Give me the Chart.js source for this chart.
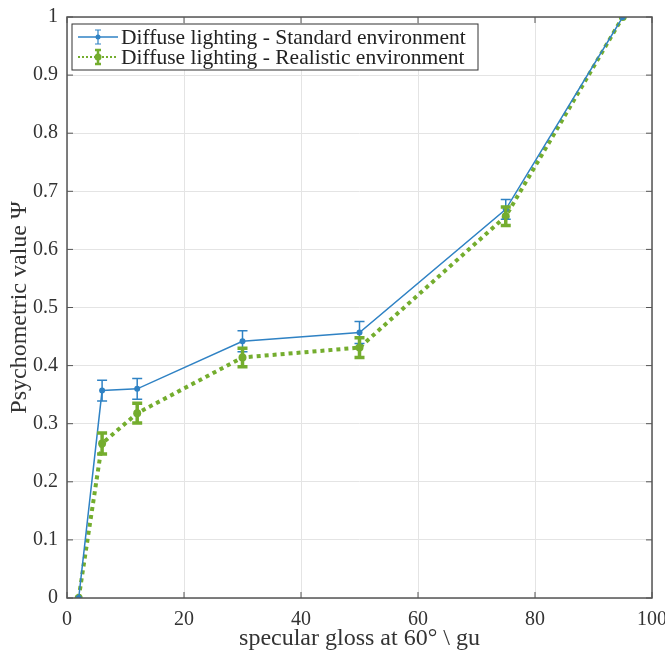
<!DOCTYPE html>
<html>
<head>
<meta charset="utf-8">
<script src="https://cdn.jsdelivr.net/npm/chart.js@4/dist/chart.umd.min.js"></script>
<style>
  html, body { margin: 0; padding: 0; background: #fff; }
  #wrap { width: 665px; height: 650px; }
</style>
</head>
<body>
<div id="wrap"><canvas id="ctx"></canvas></div>
<script>
// specular gloss (gu)
const gloss = [2, 6, 12, 30, 50, 75, 95];

const standardLabel = 'Diffuse lighting - Standard environment';
const standardValues = [0, 0.357, 0.360, 0.442, 0.457, 0.669, 1];
const standardErr = [0, 0.018, 0.018, 0.018, 0.019, 0.017, 0];

const realisticLabel = 'Diffuse lighting - Realistic environment';
const realisticValues = [0, 0.266, 0.318, 0.414, 0.431, 0.657, 1];
const realisticErr = [0, 0.018, 0.017, 0.016, 0.017, 0.016, 0];

const yTicks = [0, 0.1, 0.2, 0.3, 0.4, 0.5, 0.6, 0.7, 0.8, 0.9, 1];
const xTicks = [0, 20, 40, 60, 80, 100];

const BLUE = '#2f82c4';
const GREEN = '#74ad2e';
const FONT = '"Liberation Serif", "DejaVu Serif", serif';

const toPoints = (xs, ys) => xs.map((x, i) => ({ x: x, y: ys[i] }));

// error bars, axis frame with inward ticks, legend box
const matlabPlugin = {
  id: 'matlab',
  afterDatasetsDraw(chart) {
    const { ctx, scales } = chart;
    const xs = scales.x, ys = scales.y;
    const bars = [
      { err: standardErr, vals: standardValues, color: BLUE, width: 1.5, cap: 5 },
      { err: realisticErr, vals: realisticValues, color: GREEN, width: 3.5, cap: 5 },
    ];
    ctx.save();
    bars.forEach(b => {
      ctx.strokeStyle = b.color;
      ctx.lineWidth = b.width;
      gloss.forEach((g, i) => {
        if (!b.err[i]) return;
        const px = xs.getPixelForValue(g);
        const top = ys.getPixelForValue(b.vals[i] + b.err[i]);
        const bot = ys.getPixelForValue(b.vals[i] - b.err[i]);
        ctx.beginPath();
        ctx.moveTo(px, top); ctx.lineTo(px, bot);
        ctx.moveTo(px - b.cap, top); ctx.lineTo(px + b.cap, top);
        ctx.moveTo(px - b.cap, bot); ctx.lineTo(px + b.cap, bot);
        ctx.stroke();
      });
    });
    ctx.restore();
  },
  afterDraw(chart) {
    const { ctx, chartArea: a, scales } = chart;
    ctx.save();
    // frame
    ctx.strokeStyle = '#555';
    ctx.lineWidth = 1.5;
    ctx.strokeRect(a.left, a.top, a.right - a.left, a.bottom - a.top);
    // inward ticks
    ctx.lineWidth = 1;
    const t = 6;
    xTicks.forEach(v => {
      const px = scales.x.getPixelForValue(v);
      ctx.beginPath();
      ctx.moveTo(px, a.bottom); ctx.lineTo(px, a.bottom - t);
      ctx.moveTo(px, a.top); ctx.lineTo(px, a.top + t);
      ctx.stroke();
    });
    yTicks.forEach(v => {
      const py = scales.y.getPixelForValue(v);
      ctx.beginPath();
      ctx.moveTo(a.left, py); ctx.lineTo(a.left + t, py);
      ctx.moveTo(a.right, py); ctx.lineTo(a.right - t, py);
      ctx.stroke();
    });

    // legend
    const lx = a.left + 5, ly = a.top + 7, lw = 406, lh = 46;
    ctx.fillStyle = '#fff';
    ctx.fillRect(lx, ly, lw, lh);
    ctx.strokeStyle = '#333';
    ctx.lineWidth = 1;
    ctx.strokeRect(lx, ly, lw, lh);
    const rows = [
      { label: standardLabel, color: BLUE, width: 1.5, dash: [], r: 2.5 },
      { label: realisticLabel, color: GREEN, width: 2, dash: [2, 2], r: 3.5 },
    ];
    rows.forEach((row, i) => {
      const cy = ly + 13 + i * 20;
      const x0 = lx + 6, x1 = lx + 46, xm = (x0 + x1) / 2;
      ctx.strokeStyle = row.color;
      ctx.lineWidth = row.width;
      ctx.setLineDash(row.dash);
      ctx.beginPath(); ctx.moveTo(x0, cy); ctx.lineTo(x1, cy); ctx.stroke();
      ctx.setLineDash([]);
      ctx.lineWidth = i === 0 ? 1.2 : 2.5;
      ctx.beginPath();
      ctx.moveTo(xm, cy - 7); ctx.lineTo(xm, cy + 7);
      ctx.moveTo(xm - 3, cy - 7); ctx.lineTo(xm + 3, cy - 7);
      ctx.moveTo(xm - 3, cy + 7); ctx.lineTo(xm + 3, cy + 7);
      ctx.stroke();
      ctx.fillStyle = row.color;
      ctx.beginPath(); ctx.arc(xm, cy, row.r, 0, Math.PI * 2); ctx.fill();
      ctx.fillStyle = '#222';
      ctx.font = '21.5px ' + FONT;
      ctx.textBaseline = 'middle';
      ctx.fillText(row.label, x1 + 3, cy + 1);
    });
    ctx.restore();
  }
};

new Chart(document.getElementById('ctx'), {
  type: 'line',
  data: {
    datasets: [
      {
        label: standardLabel,
        data: toPoints(gloss, standardValues),
        borderColor: BLUE,
        backgroundColor: BLUE,
        borderWidth: 1.5,
        pointRadius: 3,
        pointBorderWidth: 0,
        tension: 0,
      },
      {
        label: realisticLabel,
        data: toPoints(gloss, realisticValues),
        borderColor: GREEN,
        backgroundColor: GREEN,
        borderWidth: 4,
        borderDash: [4, 4],
        pointRadius: 4,
        pointBorderWidth: 0,
        tension: 0,
      },
    ],
  },
  options: {
    responsive: true,
    maintainAspectRatio: false,
    animation: false,
    layout: { autoPadding: false, padding: { top: 17, right: 13, left: 0, bottom: 0 } },
    plugins: {
      legend: { display: false },
      tooltip: { enabled: false },
    },
    scales: {
      x: {
        type: 'linear',
        min: 0,
        max: 100,
        afterBuildTicks: s => { s.ticks = xTicks.map(v => ({ value: v })); },
        afterFit: s => { s.height = 52; s.paddingLeft = 0; s.paddingRight = 0; },
        grid: { color: '#e4e4e4', drawTicks: false },
        border: { display: false },
        ticks: { color: '#333', font: { family: FONT, size: 20, lineHeight: 1 }, padding: 12, maxRotation: 0 },
        title: {
          display: true,
          text: 'specular gloss at 60° \\ gu',
          color: '#333',
          font: { family: FONT, size: 24, lineHeight: 1 },
          padding: { top: 0, bottom: -1 },
        },
      },
      y: {
        type: 'linear',
        min: 0,
        max: 1,
        afterBuildTicks: s => { s.ticks = yTicks.map(v => ({ value: v })); },
        afterFit: s => { s.width = 67; s.paddingTop = 0; s.paddingBottom = 0; },
        grid: { color: '#e4e4e4', drawTicks: false },
        border: { display: false },
        ticks: {
          color: '#333',
          font: { family: FONT, size: 20 },
          padding: 9,
          callback: v => String(parseFloat(v.toFixed(1))),
        },
        title: {
          display: true,
          text: 'Psychometric value Ψ',
          color: '#333',
          font: { family: FONT, size: 24, lineHeight: 1 },
          padding: { top: 8, bottom: 0 },
        },
      },
    },
  },
  plugins: [matlabPlugin],
});
</script>
</body>
</html>
